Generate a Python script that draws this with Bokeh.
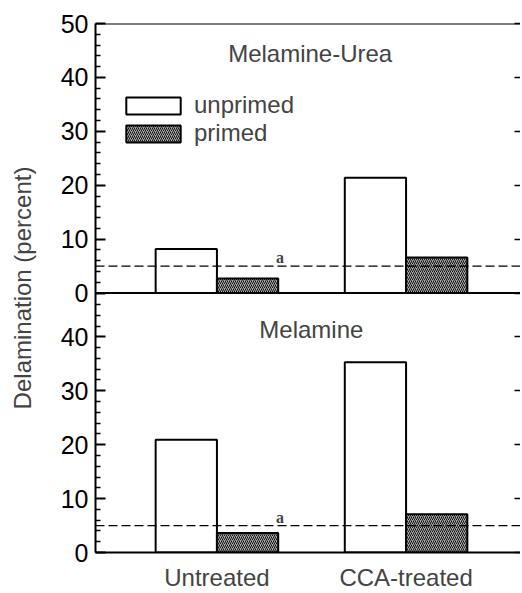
import numpy as np
from bokeh.plotting import figure
from bokeh.models import (Range1d, LinearAxis, FixedTicker, Span, Label, Legend, LegendItem)
from bokeh.embed import file_html
from bokeh.resources import INLINE

# ---- data ----
categories = ["Untreated", "CCA-treated"]
mu_unprimed = [8.2, 21.4]      # Melamine-Urea
mu_primed = [2.7, 6.6]
mel_unprimed = [20.9, 35.3]    # Melamine
mel_primed = [3.6, 7.1]
threshold = 5
top_ticks = [0, 10, 20, 30, 40, 50]
bottom_ticks = [0, 10, 20, 30, 40]
top_max = 50
bottom_max = 48.1

FONT = "Liberation Sans"
BAR_W = 0.324
idx = np.arange(len(categories))

p = figure(width=520, height=593, output_backend="svg", toolbar_location=None,
           x_range=Range1d(-0.642, 1.605), y_range=Range1d(0, bottom_max + top_max),
           min_border_left=95, min_border_right=0, min_border_top=23, min_border_bottom=40)
p.extra_y_ranges = {"top": Range1d(-bottom_max, top_max)}
p.outline_line_color = None
p.xgrid.visible = False
p.ygrid.visible = False
p.background_fill_color = "white"

# y ticks: bottom panel native, top panel shifted onto the shared axis
maj = list(bottom_ticks) + [bottom_max + t for t in top_ticks]
minor = [v for v in range(0, 48, 2) if v % 10 != 0] + \
        [bottom_max + v for v in range(0, top_max, 2) if v % 10 != 0]
overrides = {}
for t in bottom_ticks:
    overrides[t] = str(t)
for t in top_ticks:
    overrides[bottom_max + t] = str(t)

ya = p.left[0]
ya.ticker = FixedTicker(ticks=maj, minor_ticks=minor)
ya.major_label_overrides = overrides
ya.major_label_text_font = FONT
ya.major_label_text_font_size = "25px"
ya.major_label_text_color = "black"
ya.major_label_standoff = 7
ya.major_tick_in = 10
ya.major_tick_out = 0
ya.minor_tick_in = 5
ya.minor_tick_out = 0
ya.axis_line_width = 2
ya.major_tick_line_width = 2
ya.minor_tick_line_width = 1.5
ya.axis_label = "Delamination (percent)"
ya.axis_label_text_font = FONT
ya.axis_label_text_font_size = "24px"
ya.axis_label_text_font_style = "normal"
ya.axis_label_standoff = 22

ra = LinearAxis(ticker=FixedTicker(ticks=maj), major_label_text_font_size="1px",
                major_label_text_color=None,
                major_label_standoff=0, major_tick_in=6, major_tick_out=0,
                minor_tick_in=0, minor_tick_out=0, axis_line_color=None,
                major_tick_line_width=1.5)
p.add_layout(ra, "right")

xa = p.below[0]
xa.ticker = FixedTicker(ticks=list(idx), minor_ticks=[])
xa.major_label_overrides = {int(i): c for i, c in enumerate(categories)}
xa.major_label_text_font = FONT
xa.major_label_text_font_size = "24px"
xa.major_label_standoff = 11
xa.major_tick_in = 0
xa.major_tick_out = 0
xa.minor_tick_in = 0
xa.minor_tick_out = 0
xa.axis_line_width = 2

hatch = dict(fill_color="#a8a8a8", hatch_pattern="/", hatch_color="#111111",
             hatch_scale=4, hatch_weight=1)

# top panel (Melamine-Urea)
r_u = p.vbar(x=idx - BAR_W / 2, top=mu_unprimed, bottom=0, width=BAR_W, y_range_name="top",
             fill_color="white", line_color="black", line_width=2)
r_p = p.vbar(x=idx + BAR_W / 2, top=mu_primed, bottom=0, width=BAR_W, y_range_name="top",
             line_color="black", line_width=2, **hatch)
# bottom panel (Melamine)
p.vbar(x=idx - BAR_W / 2, top=mel_unprimed, bottom=0, width=BAR_W,
       fill_color="white", line_color="black", line_width=2)
p.vbar(x=idx + BAR_W / 2, top=mel_primed, bottom=0, width=BAR_W,
       line_color="black", line_width=2, **hatch)

# frame top, panel divider and threshold lines
p.add_layout(Span(location=top_max, dimension="width", y_range_name="top",
                  line_color="black", line_width=2))
p.add_layout(Span(location=0, dimension="width", y_range_name="top",
                  line_color="black", line_width=2))
p.add_layout(Span(location=threshold, dimension="width", y_range_name="top",
                  line_color="black", line_width=1.2, line_dash="9 4"))
p.add_layout(Span(location=threshold, dimension="width",
                  line_color="black", line_width=1.2, line_dash="9 4"))

for rng in ("top", "default"):
    p.add_layout(Label(x=0.334, y=threshold, y_range_name=rng, text="a",
                       text_font="Liberation Serif", text_font_style="bold",
                       text_font_size="16px", text_align="center",
                       text_baseline="bottom", y_offset=0))

p.add_layout(Label(x=0.493, y=44.4, y_range_name="top", text="Melamine-Urea",
                   text_font=FONT, text_font_size="24px", text_align="center",
                   text_baseline="middle"))
p.add_layout(Label(x=0.499, y=41.3, text="Melamine",
                   text_font=FONT, text_font_size="24px", text_align="center",
                   text_baseline="middle"))

legend = Legend(items=[LegendItem(label="unprimed", renderers=[r_u]),
                       LegendItem(label="primed", renderers=[r_p])],
                location=(24, 405), padding=0, margin=0, spacing=0,
                glyph_width=68, glyph_height=21, label_height=21,
                label_standoff=7, label_text_font=FONT, label_text_font_size="24px",
                border_line_color=None, background_fill_alpha=0)
p.add_layout(legend, "center")

open("out.html", "w").write(file_html(p, INLINE))
